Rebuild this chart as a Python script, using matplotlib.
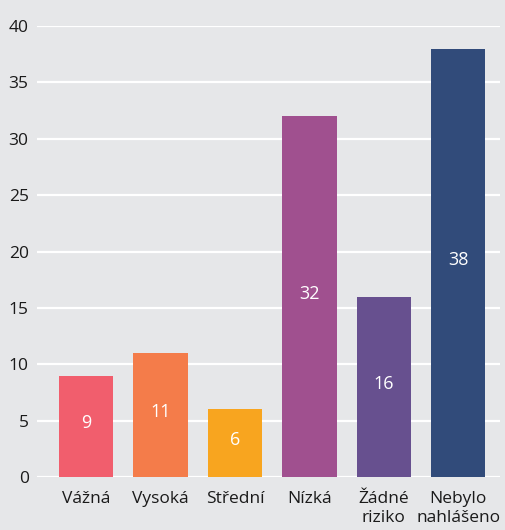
import matplotlib.pyplot as plt
from matplotlib.transforms import offset_copy

categories = ['Vážná', 'Vysoká', 'Střední', 'Nízká', 'Žádné\nriziko', 'Nebylo\nnahlášeno']
values = [9, 11, 6, 32, 16, 38]
colors = ['#f15e6d', '#f47c4a', '#f8a51f', '#a0508f', '#67508f', '#314b7a']
yticks = [0, 5, 10, 15, 20, 25, 30, 35, 40]

bg = '#e6e7e9'
plt.rcParams['font.family'] = ['Open Sans', 'DejaVu Sans']

fig = plt.figure(figsize=(5.05, 5.30), dpi=100, facecolor=bg)
ax = fig.add_axes([37 / 505, 53 / 530, 463 / 505, 451 / 530])
ax.set_facecolor(bg)

x = list(range(len(categories)))
bars = ax.bar(x, values, width=0.73, color=colors, zorder=3)

# hodnoty doprostred sloupcu, trochu nahoru
lift = offset_copy(ax.transData, fig=fig, x=0, y=3, units='dots')
for b, v in zip(bars, values):
    ax.text(b.get_x() + b.get_width() / 2, v / 2, str(v), ha='center', va='center',
            color='white', fontsize=13, zorder=4, transform=lift)

ax.set_ylim(0, 40)
ax.set_xlim(-0.66, 5.56)
ax.set_yticks(yticks)
ax.set_xticks(x)
ax.set_xticklabels(categories, fontsize=12.5, color='#1a1a1a', linespacing=1.25)
ax.tick_params(axis='y', labelsize=12.5, colors='#1a1a1a', length=0, pad=6)
ax.tick_params(axis='x', length=0, pad=10)
ax.grid(axis='y', color='white', linewidth=1.6, zorder=1)
for s in ax.spines.values():
    s.set_visible(False)

fig.savefig('out.png', dpi=100, facecolor=bg)
